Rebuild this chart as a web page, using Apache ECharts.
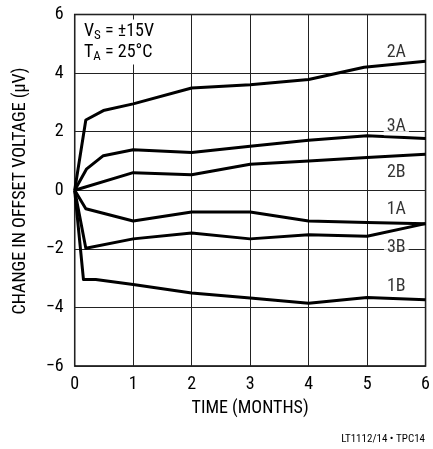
<!DOCTYPE html>
<html><head><meta charset="utf-8">
<script src="https://cdn.jsdelivr.net/npm/echarts@6/dist/echarts.min.js"></script>
<style>html,body{margin:0;padding:0;background:#fff}#c{width:433px;height:449px}</style>
</head><body><div id="c"></div>
<script>
const FONT = "'Roboto Condensed','DejaVu Sans Condensed','Liberation Sans Narrow','Liberation Sans',Arial,sans-serif";
// curve data (months, µV)
const x2A = [0, 0.19, 0.49, 1, 2, 3, 4, 4.95, 6];
const y2A = [0, 2.4, 2.72, 2.95, 3.49, 3.6, 3.78, 4.2, 4.4];
const x3A = [0, 0.2, 0.49, 1, 2, 3, 4, 5, 6];
const y3A = [0, 0.72, 1.18, 1.38, 1.29, 1.5, 1.71, 1.86, 1.77];
const x2B = [0, 1, 2, 3, 4, 5, 6];
const y2B = [0, 0.6, 0.53, 0.89, 1.0, 1.12, 1.23];
const x1A = [0, 0.19, 1, 2, 3, 4, 5, 6];
const y1A = [0, -0.63, -1.05, -0.74, -0.74, -1.05, -1.1, -1.14];
const x3B = [0, 0.19, 1, 2, 3, 4, 5, 6];
const y3B = [0, -1.98, -1.66, -1.46, -1.66, -1.52, -1.57, -1.14];
const x1B = [0, 0.15, 0.36, 1, 2, 3, 4, 5, 6];
const y1B = [0, -3.05, -3.05, -3.22, -3.51, -3.68, -3.86, -3.66, -3.74];
// curve labels
const labelNames = ['2A', '3A', '2B', '1A', '3B', '1B'];
const labelX = [5.5, 5.5, 5.5, 5.5, 5.5, 5.5];
const labelY = [4.69, 2.18, 0.6, -0.67, -1.96, -3.29];
const xTicks = [0, 1, 2, 3, 4, 5, 6];
const yTicks = [-6, -4, -2, 0, 2, 4, 6];
const yTitle = 'CHANGE IN OFFSET VOLTAGE (µV)';
const xTitle = 'TIME (MONTHS)';

function pairs(xs, ys) { return xs.map((x, i) => [x, ys[i]]); }
const curves = [[x2A, y2A], [x3A, y3A], [x2B, y2B], [x1A, y1A], [x3B, y3B], [x1B, y1B]];

const chart = echarts.init(document.getElementById('c'));
const lineSeries = curves.map((c, i) => ({
  type: 'line', name: labelNames[i], data: pairs(c[0], c[1]),
  symbol: 'none', smooth: false, z: 3,
  lineStyle: { color: '#000', width: 3, join: 'round' }
}));
const labelSeries = {
  type: 'scatter', symbolSize: 0, z: 5, silent: true,
  data: labelNames.map((n, i) => ({
    name: n, value: [labelX[i], labelY[i]],
    label: (n === '3A' || n === '3B') ? { backgroundColor: '#fff', padding: [0, 3] } : {}
  })),
  label: { show: true, position: 'inside', formatter: p => p.name,
    fontFamily: FONT, fontSize: 18, color: '#000' }
};

chart.setOption({
  animation: false,
  backgroundColor: '#fff',
  grid: { left: 74.7, right: 7, top: 14.5, bottom: 83, show: true,
    borderColor: '#000', borderWidth: 1.5, backgroundColor: 'transparent' },
  title: {
    text: '{v|V}{s|S}{v| = ±15V}\n{v|T}{s|A}{v| = 25°C}',
    left: 80, top: 20, padding: [1, 4], backgroundColor: '#fff', z: 6,
    textStyle: { fontWeight: 'normal', rich: {
      v: { fontFamily: FONT, fontSize: 18, fontWeight: 'normal', color: '#000', lineHeight: 21 },
      s: { fontFamily: FONT, fontSize: 13, fontWeight: 'normal', color: '#000', lineHeight: 21, padding: [9, 0, 0, 0] }
    } }
  },
  xAxis: {
    type: 'value', min: 0, max: 6, interval: 1,
    name: xTitle, nameLocation: 'middle', nameGap: 33,
    nameTextStyle: { fontFamily: FONT, fontSize: 18, color: '#000' },
    axisLine: { show: false }, axisTick: { show: false },
    axisLabel: { fontFamily: FONT, fontSize: 18, color: '#000', margin: 9,
      formatter: v => xTicks.includes(v) ? String(v) : '' },
    splitLine: { show: true, lineStyle: { color: '#222', width: 1 } }
  },
  yAxis: {
    type: 'value', min: -6, max: 6, interval: 2,
    axisLine: { show: false }, axisTick: { show: false },
    axisLabel: { fontFamily: FONT, fontSize: 18, color: '#000', margin: 11,
      formatter: v => yTicks.includes(v) ? String(v).replace('-', '\u2212') : '' },
    splitLine: { show: true, lineStyle: { color: '#222', width: 1 } }
  },
  graphic: [{
    type: 'text', x: 20, y: 191, rotation: Math.PI / 2,
    style: { text: yTitle, font: '18px ' + FONT, fill: '#000', align: 'center', verticalAlign: 'middle' }
  }, {
    type: 'text', right: 8, bottom: 4,
    style: { text: 'LT1112/14 • TPC14', font: '11px ' + FONT, fill: '#000' }
  }],
  series: lineSeries.concat([labelSeries])
});
</script></body></html>
